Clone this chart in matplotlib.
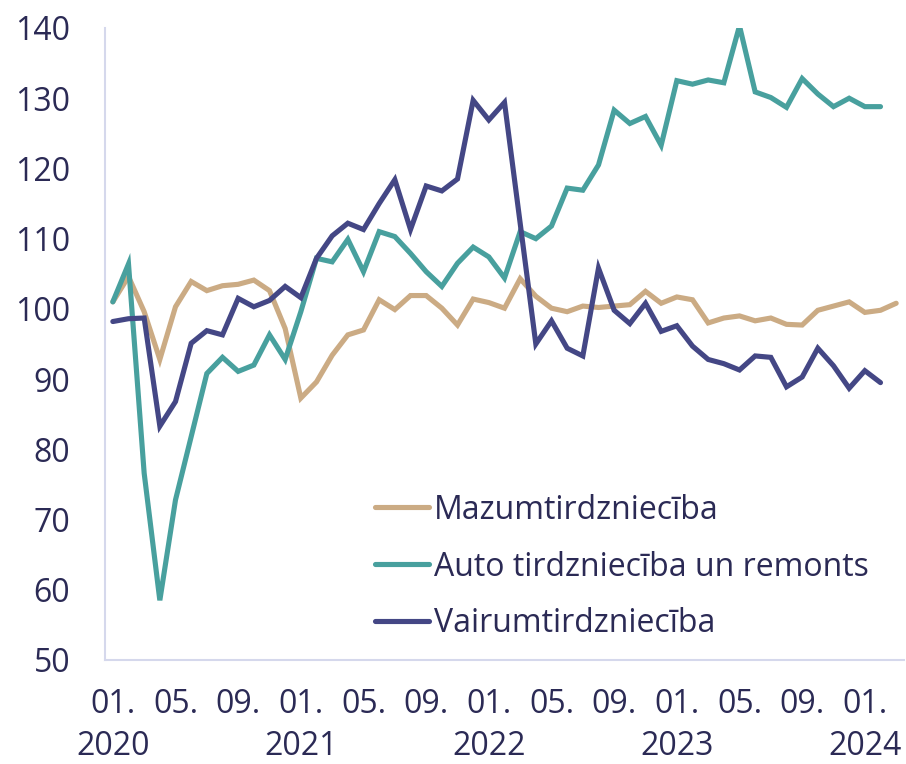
import numpy as np
import matplotlib
matplotlib.use("Agg")
import matplotlib.pyplot as plt

plt.rcParams['font.family'] = ['Open Sans', 'DejaVu Sans']

# monthly index values, 01.2020 .. 03.2024
mazum = [101.0, 104.6, 99.6, 92.8, 100.3, 103.9, 102.6, 103.3, 103.5, 104.1,
         102.6, 97.2, 87.3, 89.6, 93.4, 96.3, 97.0, 101.3, 99.9, 101.9,
         101.9, 100.1, 97.7, 101.4, 100.9, 100.1, 104.3, 101.8, 100.1, 99.6,
         100.4, 100.2, 100.4, 100.6, 102.5, 100.8, 101.7, 101.3, 98.0, 98.7,
         99.0, 98.3, 98.7, 97.8, 97.7, 99.8, 100.4, 101.0, 99.5, 99.8,
         100.8]
auto = [101.0, 106.4, 76.6, 58.5, 72.8, 81.8, 90.8, 93.1, 91.1, 92.0,
        96.3, 92.8, 99.6, 107.2, 106.7, 109.9, 105.3, 111.0, 110.3, 107.9,
        105.3, 103.2, 106.5, 108.8, 107.4, 104.4, 111.0, 110.0, 111.8, 117.2,
        116.9, 120.5, 128.3, 126.4, 127.4, 123.3, 132.5, 132.0, 132.6, 132.2,
        140.3, 130.9, 130.1, 128.7, 132.8, 130.6, 128.8, 130.0, 128.8, 128.8]
vairum = [98.2, 98.6, 98.7, 83.3, 86.8, 95.1, 96.9, 96.3, 101.5, 100.3,
          101.2, 103.2, 101.6, 107.2, 110.4, 112.2, 111.3, 115.0, 118.4, 111.3,
          117.5, 116.8, 118.5, 129.7, 126.9, 129.4, 112.2, 95.0, 98.3, 94.4,
          93.3, 105.8, 99.8, 97.9, 100.8, 96.8, 97.6, 94.7, 92.8, 92.2,
          91.3, 93.3, 93.1, 88.9, 90.3, 94.4, 91.9, 88.7, 91.2, 89.5]

labels = ["Mazumtirdzniecība", "Auto tirdzniecība un remonts", "Vairumtirdzniecība"]
colors = ["#cbab84", "#48a09e", "#444785"]

tick_pos = list(range(0, 51, 4))
tick_labels = ["01.\n2020", "05.", "09.", "01.\n2021", "05.", "09.", "01.\n2022",
               "05.", "09.", "01.\n2023", "05.", "09.", "01.\n2024"]

text_color = "#2b2a55"
spine_color = "#d5d8ec"

fig = plt.figure(figsize=(9.06, 7.64), dpi=100)
ax = fig.add_axes([105 / 906, 1 - 660 / 764, 799 / 906, 632 / 764])

for vals, lab, col in zip([mazum, auto, vairum], labels, colors):
    ax.plot(np.arange(len(vals)), vals, color=col, lw=3.7, label=lab,
            solid_joinstyle='miter', solid_capstyle='round')

ax.set_xlim(-0.5, 50.5)
ax.set_ylim(50, 140)
ax.set_yticks(range(50, 141, 10))
ax.set_xticks(tick_pos)
ax.set_xticklabels(tick_labels, linespacing=1.35)
ax.tick_params(axis='both', length=0, labelsize=23, colors=text_color)
ax.tick_params(axis='y', pad=25)
ax.tick_params(axis='x', pad=20)
for s in ['top', 'right']:
    ax.spines[s].set_visible(False)
for s in ['left', 'bottom']:
    ax.spines[s].set_color(spine_color)
    ax.spines[s].set_linewidth(1.5)

leg = ax.legend(loc='center left', bbox_to_anchor=((375 - 105) / 799, (660 - 567) / 632),
                frameon=False, fontsize=23, handlelength=1.7, handletextpad=0.15,
                labelspacing=0.75, borderpad=0, borderaxespad=0)
for t in leg.get_texts():
    t.set_color(text_color)

fig.savefig("out.png", dpi=100)
